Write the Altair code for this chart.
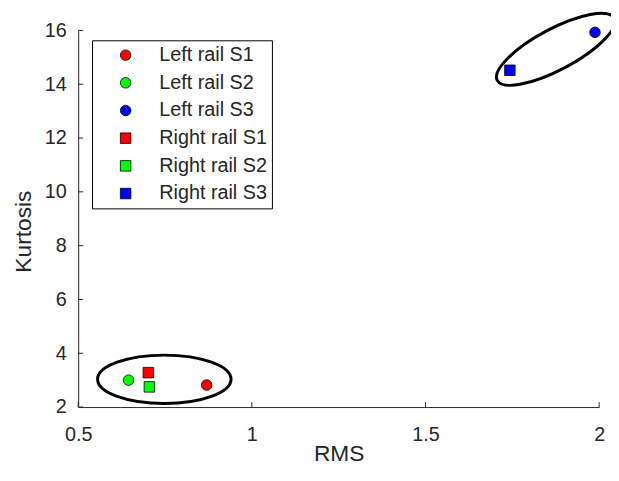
import altair as alt
import pandas as pd

# ---- data ----
series = ["Left rail S1", "Left rail S2", "Left rail S3",
          "Right rail S1", "Right rail S2", "Right rail S3"]
rms = [0.870, 0.645, 1.988, 0.702, 0.705, 1.743]
kurtosis = [2.82, 3.00, 15.93, 3.28, 2.75, 14.52]

x_ticks = [0.5, 1, 1.5, 2]
y_ticks = [2, 4, 6, 8, 10, 12, 14, 16]

# annotation ellipses: centre (data units)
ell_rms = [0.748, 1.875]
ell_kurt = [3.03, 15.30]

# ---- styles ----
colors = ["#FF0000", "#00FF00", "#0000FF", "#FF0000", "#00FF00", "#0000FF"]
shapes = ["circle"] * 3 + ["square"] * 3
sizes = [113, 113, 113, 81, 81, 81]
ell_len = [135, 134]       # major axis length in px
ell_ratio = [0.363, 0.31]  # minor / major
ell_angle = [0, 332]

FONT = "Liberation Sans"
TXT = "#262626"
W, H = 527, 381


def ellipse_path(r):
    k = 0.5523
    return (f"M -1 0 C -1 {-k*r:.4f} {-k:.4f} {-r:.4f} 0 {-r:.4f} "
            f"C {k:.4f} {-r:.4f} 1 {-k*r:.4f} 1 0 "
            f"C 1 {k*r:.4f} {k:.4f} {r:.4f} 0 {r:.4f} "
            f"C {-k:.4f} {r:.4f} -1 {k*r:.4f} -1 0 Z")


pts = pd.DataFrame({"series": series, "rms": rms, "kurt": kurtosis})
xt = pd.DataFrame({"rms": x_ticks})
yt = pd.DataFrame({"kurt": y_ticks})

xs = alt.Scale(domain=[0.5, 2], nice=False, zero=False)
ys = alt.Scale(domain=[2, 16], nice=False, zero=False)

x_axis = alt.Axis(values=x_ticks, format="~g", title="RMS", ticks=False, tickSize=0,
                  labelPadding=18, labelFlush=False, grid=False,
                  titleY=54, titleBaseline="alphabetic")
y_axis = alt.Axis(values=y_ticks, title="Kurtosis", ticks=False, tickSize=0,
                  labelPadding=12, labelFlush=False, grid=False,
                  titleX=-55, titleY=203, titleAngle=270, titleAlign="center",
                  titleBaseline="middle")

X = alt.X("rms:Q", scale=xs, axis=x_axis)
Y = alt.Y("kurt:Q", scale=ys, axis=y_axis)

points = alt.Chart(pts).mark_point(filled=True, opacity=1, stroke="black",
                                   strokeWidth=0.8).encode(
    x=X, y=Y,
    color=alt.Color("series:N", scale=alt.Scale(domain=series, range=colors),
                    legend=alt.Legend(
                        orient="none", legendX=14, legendY=10, title=None,
                        padding=5, symbolOffset=19, labelOffset=24, rowPadding=8,
                        labelFontSize=20, labelFont=FONT, labelColor=TXT,
                        strokeColor="#000000", fillColor="white",
                        symbolStrokeColor="black", symbolStrokeWidth=0.8)),
    shape=alt.Shape("series:N", scale=alt.Scale(domain=series, range=shapes)),
    size=alt.Size("series:N", scale=alt.Scale(domain=series, range=sizes)),
)

ell_layers = []
for i in range(len(ell_rms)):
    d = pd.DataFrame({"rms": [ell_rms[i]], "kurt": [ell_kurt[i]]})
    ell_layers.append(
        alt.Chart(d).mark_point(
            filled=False, stroke="black", strokeWidth=3, opacity=1,
            shape=ellipse_path(ell_ratio[i]), size=ell_len[i] ** 2,
            angle=ell_angle[i],
        ).encode(x=X, y=Y)
    )

xticks = alt.Chart(xt).mark_rule(color=TXT, strokeWidth=1).encode(
    x=X, y=alt.value(H), y2=alt.value(H - 5),
)
yticks = alt.Chart(yt).mark_rule(color=TXT, strokeWidth=1).encode(
    y=Y, x=alt.value(0), x2=alt.value(5),
)

chart = alt.layer(*ell_layers, xticks, yticks, points).properties(
    width=W, height=H,
    autosize=alt.AutoSizeParams(type="none"),
    padding={"left": 71, "top": 20, "right": 12, "bottom": 63},
    background="white",
).configure_view(stroke=None).configure_axis(
    labelFont=FONT, titleFont=FONT, labelFontSize=20, titleFontSize=23,
    labelColor=TXT, titleColor=TXT, titleFontWeight="normal",
    domainColor=TXT, domainWidth=1,
)

chart.save("out.html", embed_options={"renderer": "svg", "actions": False})
